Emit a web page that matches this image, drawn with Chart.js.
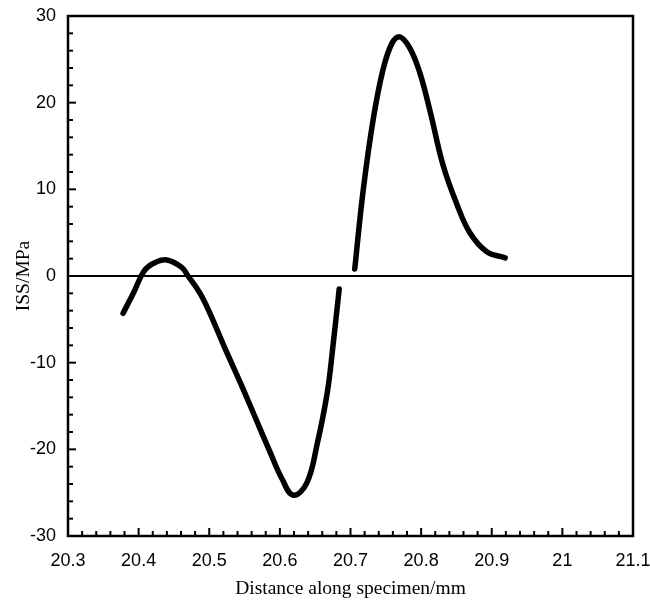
<!DOCTYPE html>
<html>
<head>
<meta charset="utf-8">
<script src="https://cdn.jsdelivr.net/npm/chart.js@4/dist/chart.umd.min.js"></script>
<style>
    html, body { margin: 0; padding: 0; background: #fff; }
    #wrap { width: 650px; height: 602px; }
</style>
</head>
<body>
<div id="wrap"><canvas id="chart" width="650" height="602"></canvas></div>
<script>
// left branch of the curve (ends just before the gap)
const leftX = [20.378, 20.393, 20.408, 20.422, 20.440, 20.461, 20.470, 20.487, 20.501, 20.522, 20.544, 20.565, 20.586, 20.603, 20.619, 20.638, 20.653, 20.667, 20.675, 20.684];
const leftY = [-4.3, -1.9, 0.6, 1.5, 1.85, 1.0, 0.0, -2.0, -4.3, -8.3, -12.3, -16.3, -20.3, -23.4, -25.3, -23.9, -19.3, -13.5, -8.2, -1.5];

// right branch (after the gap)
const rightX = [20.706, 20.718, 20.732, 20.746, 20.759, 20.770, 20.784, 20.798, 20.813, 20.831, 20.851, 20.869, 20.893, 20.919];
const rightY = [0.8, 9.9, 18.0, 23.8, 26.9, 27.6, 26.3, 23.5, 18.9, 12.8, 8.2, 5.0, 2.8, 2.1];

const xMin = 20.3, xMax = 21.1, xStep = 0.1, xMinorStep = 0.02;
const yMin = -30, yMax = 30, yStep = 10, yMinorStep = 2;

const toPoints = (xs, ys) => xs.map((x, i) => ({ x: x, y: ys[i] }));

const tickFont = { family: "'Liberation Sans', Arial, sans-serif", size: 18 };
const titleFont = { family: "'Liberation Serif', 'DejaVu Serif', serif", size: 19.5 };

// box round the plot area plus inward ticks on left and bottom
const frameAndTicks = {
    id: 'frameAndTicks',
    afterDatasetsDraw(chart) {
        const { ctx, chartArea: a, scales } = chart;
        ctx.save();
        ctx.strokeStyle = '#000';
        ctx.lineWidth = 2.5;
        ctx.strokeRect(a.left, a.top, a.right - a.left, a.bottom - a.top);

        ctx.lineWidth = 2;
        const n = Math.round((xMax - xMin) / xMinorStep);
        for (let i = 0; i <= n; i++) {
            const px = scales.x.getPixelForValue(xMin + i * xMinorStep);
            const len = i % 5 === 0 ? 8 : 5;
            ctx.beginPath();
            ctx.moveTo(px, a.bottom);
            ctx.lineTo(px, a.bottom - len);
            ctx.stroke();
        }
        const m = Math.round((yMax - yMin) / yMinorStep);
        for (let i = 0; i <= m; i++) {
            const py = scales.y.getPixelForValue(yMin + i * yMinorStep);
            const len = i % 5 === 0 ? 8 : 5;
            ctx.beginPath();
            ctx.moveTo(a.left, py);
            ctx.lineTo(a.left + len, py);
            ctx.stroke();
        }
        ctx.restore();
    }
};

new Chart(document.getElementById('chart'), {
    type: 'scatter',
    data: {
        datasets: [
            {
                data: toPoints([xMin, xMax], [0, 0]),
                showLine: true,
                borderColor: '#000',
                borderWidth: 2,
                pointRadius: 0,
                tension: 0
            },
            {
                data: toPoints(leftX, leftY),
                showLine: true,
                borderColor: '#000',
                borderWidth: 5.5,
                borderCapStyle: 'round',
                borderJoinStyle: 'round',
                pointRadius: 0,
                tension: 0.4
            },
            {
                data: toPoints(rightX, rightY),
                showLine: true,
                borderColor: '#000',
                borderWidth: 5.5,
                borderCapStyle: 'round',
                borderJoinStyle: 'round',
                pointRadius: 0,
                tension: 0.4
            }
        ]
    },
    options: {
        responsive: false,
        animation: false,
        layout: { padding: { top: 16, right: 17, bottom: 0, left: 0 } },
        plugins: {
            legend: { display: false },
            tooltip: { enabled: false }
        },
        scales: {
            x: {
                type: 'linear',
                min: xMin,
                max: xMax,
                grid: { display: false, drawTicks: false },
                border: { display: false },
                ticks: {
                    stepSize: xStep,
                    color: '#000',
                    font: tickFont,
                    padding: 14,
                    maxRotation: 0,
                    callback: v => String(Number(v.toFixed(1)))
                },
                title: {
                    display: true,
                    text: 'Distance along specimen/mm',
                    color: '#000',
                    font: titleFont,
                    padding: { top: 8, bottom: 1 }
                },
                afterFit: s => {
                    s.height = 66;
                    s.paddingLeft = 0;
                    s.paddingRight = 0;
                }
            },
            y: {
                type: 'linear',
                min: yMin,
                max: yMax,
                grid: { display: false, drawTicks: false },
                border: { display: false },
                ticks: {
                    stepSize: yStep,
                    color: '#000',
                    font: tickFont,
                    padding: 12
                },
                title: {
                    display: true,
                    text: 'ISS/MPa',
                    color: '#000',
                    font: titleFont,
                    padding: { top: 12, bottom: 0 }
                },
                afterFit: s => {
                    s.width = 68;
                    s.paddingTop = 0;
                    s.paddingBottom = 0;
                }
            }
        }
    },
    plugins: [frameAndTicks]
});
</script>
</body>
</html>
